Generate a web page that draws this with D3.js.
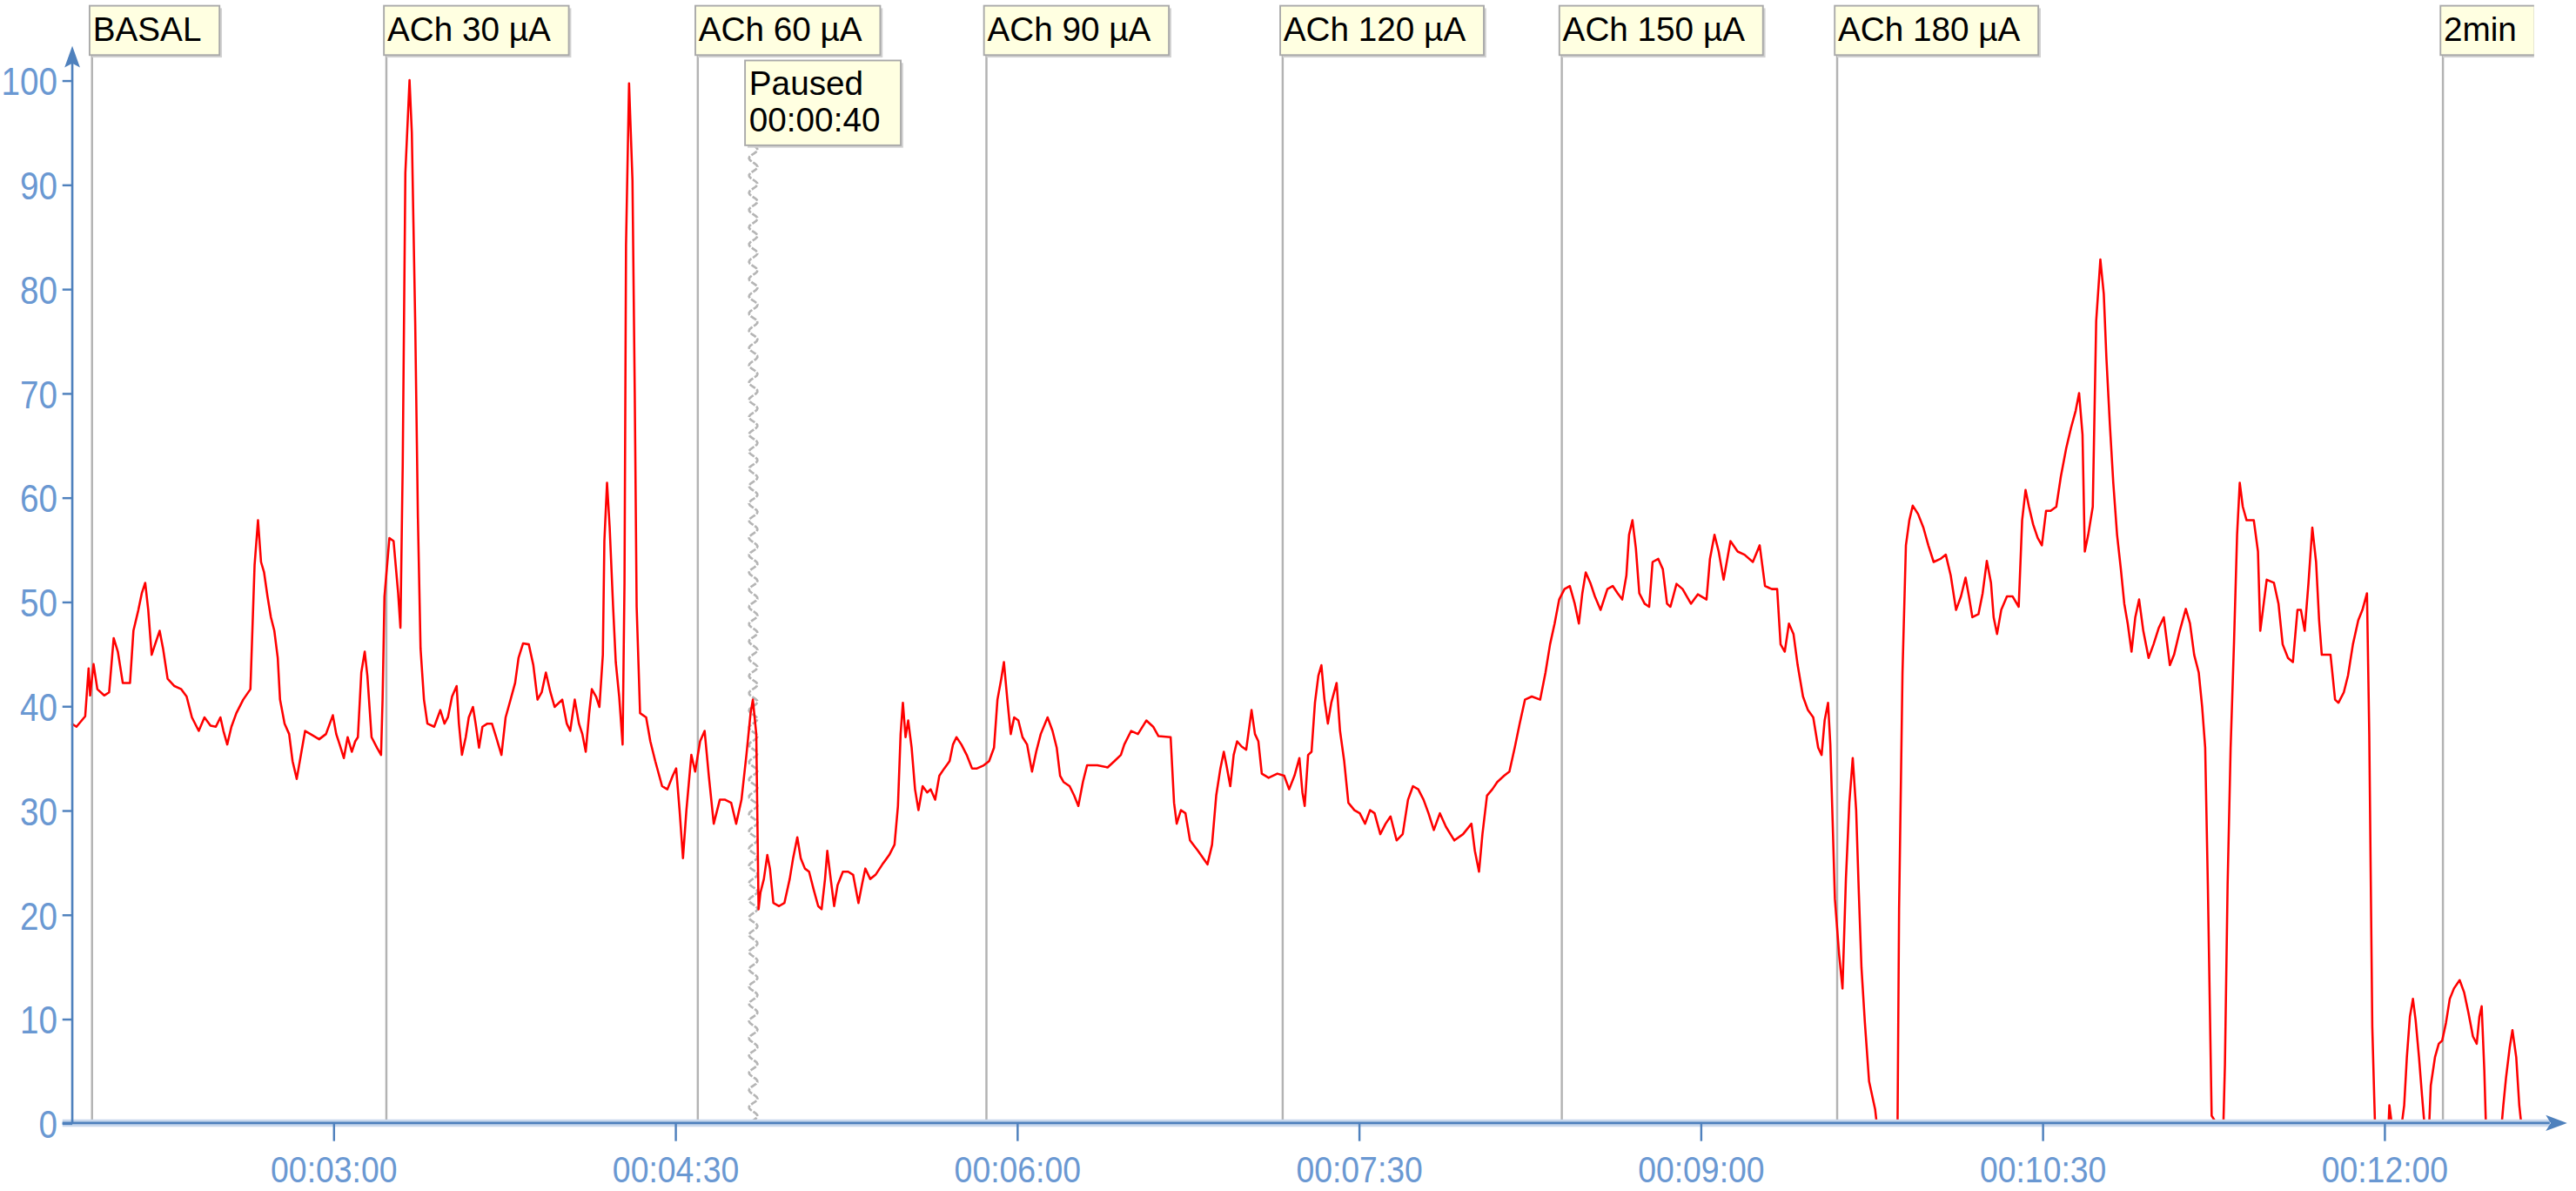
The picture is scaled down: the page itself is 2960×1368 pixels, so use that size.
<!DOCTYPE html>
<html>
<head>
<meta charset="utf-8">
<script src="https://cdn.jsdelivr.net/npm/d3@7"></script>
<style>
  body { margin: 0; background: #fff; }
  svg { display: block; }
  text { font-family: "Liberation Sans", Arial, sans-serif; }
</style>
</head>
<body>
<div id="plot"></div>
<script>
// recorded signal, [elapsed seconds, value]
const signal = [
  [111.1,38.3],[112.4,38],[114.7,39],[115.6,43.6],[116.0,41],[116.9,44],[117.9,41.6],[119.7,41],[121.0,41.3],[122.2,46.5],
  [123.3,45.2],[124.6,42.2],[126.5,42.2],[127.4,47.2],[128.7,49.2],[129.6,50.8],[130.5,51.8],[131.3,49.2],[132.2,44.9],[133.1,45.9],
  [134.3,47.2],[135.2,45.5],[136.4,42.6],[138.2,41.9],[140.0,41.6],[141.4,40.9],[142.8,38.9],[144.6,37.6],[146.1,38.9],[147.7,38.1],
  [149.1,38],[150.3,38.9],[151.1,37.6],[152.1,36.3],[153.2,38],[154.5,39.3],[156.3,40.6],[158.2,41.6],[159.3,53.5],[160.2,57.8],
  [161.0,53.8],[161.8,52.8],[162.7,50.5],[163.6,48.5],[164.5,47.2],[165.4,44.6],[166.0,40.6],[167.2,38.3],[168.4,37.3],[169.3,34.7],
  [170.4,33],[171.5,35.3],[172.6,37.6],[174.0,37.3],[176.3,36.8],[178.1,37.3],[179.9,39.1],[180.8,37.3],[181.7,36.3],[182.8,35],
  [183.8,37],[184.9,35.6],[185.8,36.6],[186.5,37],[187.4,43.2],[188.3,45.2],[189.0,42.9],[190.1,37],[191.5,36],[192.6,35.3],
  [193.0,40.6],[193.5,50.5],[194.8,56.1],[195.9,55.8],[197.1,50.8],[197.7,47.5],[198.3,63],[199.0,91.1],[200.1,100],[200.7,95],
  [201.6,76.6],[202.3,58.1],[203.0,45.5],[203.9,40.6],[204.8,38.3],[206.6,38],[208.2,39.6],[209.3,38.3],[210.2,38.9],[211.3,40.9],
  [212.5,41.9],[213.1,38.3],[213.9,35.3],[214.9,37],[215.7,38.9],[216.8,39.9],[217.5,38.3],[218.4,36],[219.3,38],[220.6,38.3],
  [221.8,38.3],[222.9,37],[224.3,35.3],[225.4,38.9],[226.7,40.6],[227.9,42.2],[228.8,44.6],[230.0,46],[231.5,45.9],[232.7,43.9],
  [233.8,40.6],[234.9,41.3],[236.0,43.2],[237.2,41.3],[238.3,39.9],[240.3,40.6],[241.5,38.3],[242.4,37.6],[243.6,40.6],[244.7,38.3],
  [245.6,37.3],[246.5,35.6],[247.4,39.3],[248.1,41.6],[249.2,40.9],[250.1,39.9],[251.0,44.9],[251.4,55.8],[252.1,61.4],
  [252.8,57.1],[253.7,49.5],[254.4,44.2],[255.3,40.9],[256.2,36.3],[256.7,51.8],[257.1,84.2],[257.9,99.7],[258.8,90.4],[259.4,70],
  [259.9,49.5],[260.8,39.3],[262.4,38.9],[263.5,36.6],[264.8,34.7],[266.6,32.3],[268.0,32],[269.4,33.3],[270.3,34],[271.2,30],
  [272.1,25.4],[273.0,30],[274.3,35.3],[275.3,33.7],[276.6,36.6],[277.8,37.6],[278.9,33.3],[280.2,28.7],[281.8,31],[283.2,31],
  [284.8,30.7],[286.1,28.7],[287.5,31],[288.8,35.3],[289.9,39.3],[290.5,40.6],[291.4,37.3],[292.0,20.5],[292.5,22.1],[293.4,23.4],
  [294.3,25.7],[295.0,24.4],[295.9,21.1],[297.4,20.8],[298.8,21.1],[300.2,23.4],[301.1,25.4],[302.2,27.4],[303.1,25.4],[304.2,24.4],
  [305.3,24.1],[306.5,22.4],[307.7,20.8],[308.6,20.5],[309.5,23.4],[310.1,26.1],[311.0,23.4],[311.9,20.8],[312.8,22.8],[314.2,24.1],
  [315.6,24.1],[316.9,23.8],[318.3,21.1],[319.2,22.8],[320.1,24.4],[321.4,23.4],[322.8,23.8],[324.6,24.8],[326.4,25.7],[327.8,26.7],
  [328.7,30.4],[329.4,37.3],[330.0,40.3],[330.7,37],[331.4,38.6],[332.3,36],[333.2,32],[334.1,30],[335.2,32.3],[336.4,31.7],
  [337.3,32],[338.5,31],[339.6,33.3],[340.9,34],[342.3,34.7],[343.2,36.3],[344.1,37],[345.4,36.3],[346.8,35.3],[348.2,34],
  [349.5,34],[351.3,34.3],[352.7,34.7],[354.0,36],[354.9,40.6],[355.9,42.6],[356.6,44.2],[357.5,40.6],[358.4,37.3],[359.3,38.9],
  [360.4,38.6],[361.5,37],[362.7,36.3],[364.0,33.7],[365.1,35.6],[366.3,37.3],[368.1,38.9],[369.4,37.6],[370.5,36],[371.4,33.3],
  [372.3,32.7],[373.9,32.3],[375.1,31.4],[376.2,30.4],[377.4,32.7],[378.5,34.3],[381.2,34.3],[383.9,34.1],[385.7,34.7],
  [387.4,35.3],[388.3,36.3],[390.1,37.6],[391.9,37.3],[394.1,38.6],[395.9,38],[397.3,37.1],[400.5,37],[401.4,30.7],[402.1,28.7],
  [403.2,30],[404.4,29.7],[405.6,27.1],[407.7,26.1],[410.2,24.8],[411.4,26.7],[412.5,31.4],[413.6,34],[414.5,35.6],[415.2,34.3],
  [416.2,32.3],[417.1,35.3],[418.0,36.6],[419.2,36.1],[420.4,35.8],[421.8,39.6],[422.7,37.3],[423.6,36.6],[424.5,33.5],[426.3,33.1],
  [428.6,33.5],[430.4,33.3],[431.7,32],[433.1,33.3],[434.4,35],[435.2,31.7],[435.8,30.4],[436.7,35.3],[437.6,35.6],[438.5,40.3],
  [439.4,42.9],[440.2,43.9],[441.0,40.6],[441.9,38.3],[442.8,40.3],[444.2,42.2],[445.1,37.6],[446.2,34.7],[447.3,30.7],[448.9,30],
  [450.3,29.7],[451.7,28.7],[453.0,30],[454.2,29.7],[455.7,27.7],[457.1,28.7],[458.4,29.4],[460.0,27.1],[461.6,27.7],[463.0,31],
  [464.3,32.3],[465.7,32],[467.1,31],[468.4,29.7],[469.8,28.1],[471.4,29.7],[473.0,28.4],[475.2,27.1],[477.5,27.7],[479.7,28.7],
  [480.6,26.1],[481.7,24.1],[482.6,27.7],[483.8,31.4],[485.2,32],[486.5,32.7],[488.3,33.3],[489.7,33.7],[491.1,36],[492.4,38.3],
  [493.8,40.6],[495.6,40.9],[497.8,40.6],[499.2,43.2],[500.4,45.9],[501.6,47.9],[502.8,50.2],[504.2,51.2],[505.6,51.5],[506.9,49.8],
  [508.0,47.9],[508.9,50.8],[509.8,52.8],[511.0,51.8],[512.2,50.5],[513.7,49.2],[515.5,51.2],[516.9,51.5],[518.2,50.8],[519.4,50.2],
  [520.5,52.5],[521.2,56.4],[522.1,57.8],[523.0,55.1],
  [523.9,50.8],[525.3,49.8],[526.5,49.5],[527.4,53.8],[528.9,54.1],[530.1,53.1],[531.2,49.8],[532.1,49.5],[533.7,51.7],[535.3,51.2],
  [537.5,49.8],[539.3,50.7],[541.6,50.2],[542.5,54.1],[543.7,56.4],[544.8,54.8],[546.1,52.1],[547.9,55.8],[549.8,54.8],[551.6,54.5],
  [553.8,53.8],[555.6,55.4],[557.0,51.5],[558.8,51.2],[560.2,51.2],[561.1,45.9],[562.2,45.2],[563.3,47.9],[564.5,46.9],[565.6,43.9],
  [567.0,40.9],[568.3,39.6],[569.7,38.9],[571.0,36],[571.9,35.3],[572.7,38.6],[573.6,40.3],[574.2,36.3],[574.8,29],[575.4,21.5],
  [576.5,16.2],[577.4,12.9],[578.3,23.4],[579.2,30.7],[580.1,35],[581.0,30],[581.7,22.1],[582.4,14.9],[583.3,9.6],[584.4,4],
  [586.0,1.3],[586.4,0],[591.9,0],[592.3,20.5],[593.2,43.2],[594.1,55.4],[595.0,57.8],[595.9,59.2],[597.3,58.4],[598.7,57.1],
  [600.0,55.4],[601.4,53.8],[603.2,54.1],[604.6,54.5],[605.9,52.5],[607.3,49.2],[608.6,50.5],[609.8,52.3],[610.7,50.5],[611.6,48.5],
  [613.2,48.8],[614.3,50.8],[615.4,53.9],[616.5,51.8],[617.2,48.5],[618.1,46.9],[619.2,49.2],[620.7,50.5],[622.2,50.5],[623.8,49.5],
  [624.7,57.8],[625.6,60.7],[626.5,59.1],[627.6,57.4],[628.8,56.1],[629.9,55.4],[631.0,58.7],[632.2,58.7],[633.7,59.1],[634.9,62],
  [636.3,64.7],[637.6,66.7],[638.8,68.3],[639.7,70],[640.6,66],[641.2,54.8],[642.1,56.4],[643.3,59.1],[644.2,76.9],[645.3,82.8],
  [646.2,79.5],[646.9,73.3],[647.8,67],[648.7,61.4],[649.7,56.4],[650.7,53.1],[651.6,49.8],[652.5,47.9],[653.5,45.2],[654.5,48.5],
  [655.5,50.2],[656.6,47.2],[658.0,44.6],[659.3,45.9],[660.7,47.5],
  [662.0,48.5],[663.6,43.9],[664.7,44.9],[666.2,47.2],[667.8,49.3],[668.9,47.9],[670.0,44.9],[671.2,43.2],[672.1,39.9],[672.9,36],
  [673.6,22.8],[674.6,0.7],[675.8,0],[677.7,0],[678.1,5.6],[678.8,22.8],[679.6,36],[680.5,46.2],[681.3,56.4],[682.0,61.4],
  [682.8,59.1],[683.8,57.8],[685.7,57.8],[686.8,54.8],[687.4,47.2],[688.1,49.2],[689.1,52.1],[691.0,51.8],[692.2,49.8],[693.3,45.9],
  [694.7,44.6],[696.0,44.2],[697.2,49.2],[698.1,49.2],[699.1,47.2],[700.1,51.8],[701.1,57.1],[702.1,53.8],[702.9,48.2],[703.6,44.9],
  [704.8,44.9],[705.9,44.9],[707.1,40.6],[708.0,40.3],[709.4,41.3],[710.5,42.9],[711.8,45.9],[713.2,48.2],[714.3,49.2],[715.5,50.8],
  [716.1,37.3],[716.9,9.2],[717.6,0],[721.2,0],[721.4,1.7],[722.0,0],[724.7,0],[725.3,1.7],[726.0,6.3],[726.8,10.2],
  [727.6,11.9],[728.3,9.9],[729.2,6.3],[730.0,2.6],[730.6,0],[731.9,0],[732.3,3.6],[733.4,6.3],[734.4,7.6],[735.3,7.9],
  [736.3,9.6],[737.3,11.9],[738.4,12.9],[739.9,13.7],[741.1,12.5],[742.2,10.6],[743.4,8.3],[744.4,7.6],[745.1,10.2],[745.7,11.2],
  [746.4,5],[746.8,0],[751.0,0],[751.4,1.7],[752.1,4.3],[753.1,7.3],[753.8,8.9],[754.8,6.3],[755.6,1.7],[756.1,0]
];

// event markers (seconds) and their labels
const eventTimes = [116.5, 194, 276, 352, 430, 503.5, 576, 735.5];
const eventLabels = ["BASAL", "ACh 30 µA", "ACh 60 µA", "ACh 90 µA", "ACh 120 µA", "ACh 150 µA", "ACh 180 µA", "2min"];

// recording pause
const pauseTime = 290.6;
const pauseLines = ["Paused", "00:00:40"];

// axis ticks
const yTicks = [0, 10, 20, 30, 40, 50, 60, 70, 80, 90, 100];
const xTickSecs = [180, 270, 360, 450, 540, 630, 720];
const xTickLabels = ["00:03:00", "00:04:30", "00:06:00", "00:07:30", "00:09:00", "00:10:30", "00:12:00"];

// drawing works in a 1568-wide coordinate space, scaled up to the window
const W = 1568, H = 1368 * 1568 / 2960;
const axisBlue = "#4f81bd";
const labelBlue = "#6a98d2";

const svg = d3.select("#plot")
  .append("svg")
  .attr("width", 2960)
  .attr("height", 1368)
  .attr("viewBox", `0 0 ${W} ${H}`);

const x = d3.scaleLinear().domain([111.3, 768.2]).range([44, 1562.6]);
const y = d3.scaleLinear().domain([0, 100]).range([683.3, 48.8]);

svg.append("clipPath").attr("id", "clipTop")
  .append("rect").attr("x", 0).attr("y", 0).attr("width", 1542.5).attr("height", H);

// event lines
svg.append("g")
  .selectAll("line")
  .data(eventTimes)
  .enter()
  .append("line")
  .attr("x1", d => x(d)).attr("x2", d => x(d))
  .attr("y1", 33.5).attr("y2", y(0))
  .attr("stroke", "#b3b3b3")
  .attr("stroke-width", 1.3);

// wavy pause line
const pauseTop = 88.4;
const wave = d3.line().x(d => d[0]).y(d => d[1]);
const wavePts = d3.range(pauseTop, y(0), 1).map(v => [x(pauseTime) + 2.6 * Math.sin((v - pauseTop) * 2 * Math.PI / 10.5), v]);
svg.append("path")
  .attr("d", wave(wavePts))
  .attr("fill", "none")
  .attr("stroke", "#b5b5b5")
  .attr("stroke-width", 1.4)
  .attr("stroke-dasharray", "4,1");

// signal trace
const line = d3.line().x(d => x(d[0])).y(d => y(d[1]));
svg.append("path")
  .datum(signal)
  .attr("d", line)
  .attr("fill", "none")
  .attr("stroke", "#ff0000")
  .attr("stroke-width", 1.35)
  .attr("stroke-linejoin", "round");

// x axis
svg.append("line")
  .attr("x1", 38).attr("x2", 1552).attr("y1", y(0)).attr("y2", y(0))
  .attr("stroke", "#c9d8ed").attr("stroke-width", 4.5);
svg.append("line")
  .attr("x1", 38).attr("x2", 1552).attr("y1", y(0)).attr("y2", y(0))
  .attr("stroke", axisBlue).attr("stroke-width", 1.5);
svg.append("path")
  .attr("d", `M${x(768.2)},${y(0)} L${x(768.2) - 13},${y(0) - 4.8} L${x(768.2) - 10},${y(0)} L${x(768.2) - 13},${y(0) + 4.8} Z`)
  .attr("fill", axisBlue);

const xAxis = svg.append("g")
  .attr("transform", `translate(0,${y(0)})`)
  .call(d3.axisBottom(x).tickValues(xTickSecs).tickFormat((d, i) => xTickLabels[i]).tickSize(11).tickSizeOuter(0));
xAxis.select(".domain").remove();
xAxis.selectAll(".tick line").attr("stroke", axisBlue).attr("stroke-width", 1.3);
xAxis.selectAll(".tick text")
  .attr("fill", labelBlue)
  .attr("font-size", 19.8)
  .attr("font-family", "Liberation Sans, Arial, sans-serif")
  .attr("dy", null)
  .attr("y", 31.4)
  .attr("transform", "scale(1,1.15)");

// y axis
svg.append("line")
  .attr("x1", 44).attr("x2", 44).attr("y1", y(0)).attr("y2", 36)
  .attr("stroke", axisBlue).attr("stroke-width", 1.4);
svg.append("path")
  .attr("d", `M44,28 L39.3,41 L44,38.5 L48.7,41 Z`)
  .attr("fill", axisBlue);

const yAxis = svg.append("g")
  .attr("transform", "translate(44,0)")
  .call(d3.axisLeft(y).tickValues(yTicks).tickSize(6).tickPadding(3).tickSizeOuter(0));
yAxis.select(".domain").remove();
yAxis.selectAll(".tick line").attr("stroke", axisBlue).attr("stroke-width", 1.3);
yAxis.selectAll(".tick text")
  .attr("fill", labelBlue)
  .attr("font-size", 20.5)
  .attr("font-family", "Liberation Sans, Arial, sans-serif")
  .attr("dy", null)
  .attr("y", 7.35)
  .attr("transform", "scale(1,1.17)");

// event label boxes
const labels = svg.append("g").attr("clip-path", "url(#clipTop)");
eventTimes.forEach((t, i) => {
  const g = labels.append("g").attr("transform", `translate(${x(t) - 1.5},3.5)`);
  const shadow = g.append("rect");
  const box = g.append("rect");
  const txt = g.append("text")
    .attr("x", 2)
    .attr("y", 21.2)
    .attr("font-size", 20.5)
    .attr("fill", "#000")
    .text(eventLabels[i]);
  const w = txt.node().getComputedTextLength() + 13;
  shadow.attr("x", 1.5).attr("y", 1.5).attr("width", w).attr("height", 30).attr("fill", "#d2d2d2");
  box.attr("width", w).attr("height", 30).attr("fill", "#ffffe1").attr("stroke", "#a9a9a9").attr("stroke-width", 1);
});

// pause label box
const pg = svg.append("g").attr("transform", `translate(${x(pauseTime) - 5},36.8)`);
const pShadow = pg.append("rect");
const pBox = pg.append("rect");
const pTexts = pg.selectAll("text")
  .data(pauseLines)
  .enter()
  .append("text")
  .attr("x", 2.5)
  .attr("y", (d, i) => 21 + i * 22.2)
  .attr("font-size", 20.5)
  .attr("fill", "#000")
  .text(d => d);
const pw = d3.max(pTexts.nodes(), n => n.getComputedTextLength()) + 15;
pShadow.attr("x", 1.5).attr("y", 1.5).attr("width", pw).attr("height", 51.6).attr("fill", "#d2d2d2");
pBox.attr("width", pw).attr("height", 51.6).attr("fill", "#ffffe1").attr("stroke", "#a9a9a9");
</script>
</body>
</html>
